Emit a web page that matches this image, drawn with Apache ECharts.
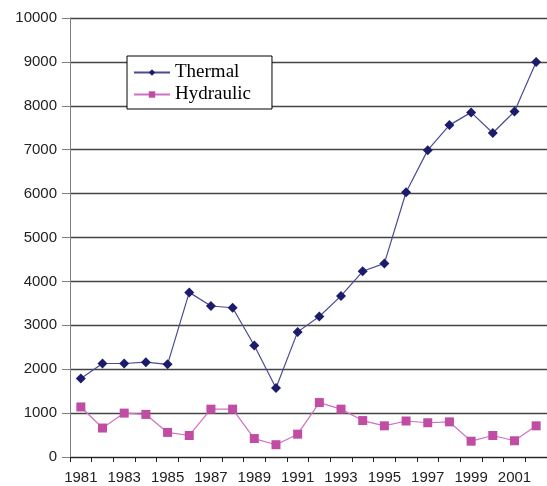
<!DOCTYPE html>
<html><head><meta charset="utf-8">
<script src="https://cdn.jsdelivr.net/npm/echarts@6/dist/echarts.min.js"></script>
<style>html,body{margin:0;padding:0;background:#fff}#c{width:547px;height:486px}</style>
</head><body><div id="c"></div>
<script>
var years = ['1981','1982','1983','1984','1985','1986','1987','1988','1989','1990','1991','1992','1993','1994','1995','1996','1997','1998','1999','2000','2001','2002'];
var thermal = [1790,2130,2130,2160,2110,3750,3440,3400,2540,1570,2850,3200,3670,4230,4410,6030,6990,7560,7850,7380,7870,9000];
var hydraulic = [1140,660,1000,970,560,490,1090,1090,420,280,520,1240,1090,830,710,820,780,800,360,490,370,710];
var yTicks = {min:0, max:10000, interval:1000};

var chart = echarts.init(document.getElementById('c'), null, {renderer:'canvas'});
chart.setOption({
  animation:false,
  backgroundColor:'#fff',
  grid:{left:70, top:18, width:479, bottom:29, containLabel:false},
  legend:{
    orient:'vertical', left:127, top:56,
    backgroundColor:'#fff', borderColor:'#000', borderWidth:1,
    padding:[7,21,5,6], itemGap:3, itemWidth:36, itemHeight:8,
    textStyle:{fontFamily:'Liberation Serif', fontSize:19, color:'#000'},
    data:['Thermal','Hydraulic']
  },
  xAxis:{
    type:'category', data:years, boundaryGap:true,
    axisLine:{lineStyle:{color:'#222', width:1}},
    axisTick:{show:true, interval:0, length:5, lineStyle:{color:'#222'}},
    axisLabel:{interval:1, fontFamily:'Liberation Sans', fontSize:15, color:'#222', margin:13}
  },
  yAxis:{
    type:'value', min:yTicks.min, max:yTicks.max, interval:yTicks.interval,
    axisLine:{show:true, lineStyle:{color:'#808080'}},
    axisTick:{show:true, inside:false, length:8, lineStyle:{color:'#808080'}},
    axisLabel:{fontFamily:'Liberation Sans', fontSize:15, color:'#222', margin:13,
      formatter:function(v){return String(v);}},
    splitLine:{show:true, lineStyle:{color:'#444', width:1.3}}
  },
  series:[
    {name:'Thermal', type:'line', data:thermal, symbol:'diamond', symbolSize:10,
     lineStyle:{color:'#4a4a95', width:1.2}, itemStyle:{color:'#1c1c6c'}},
    {name:'Hydraulic', type:'line', data:hydraulic, symbol:'rect', symbolSize:9,
     lineStyle:{color:'#d070c0', width:1.2}, itemStyle:{color:'#c04ca4'}}
  ]
});
</script></body></html>
